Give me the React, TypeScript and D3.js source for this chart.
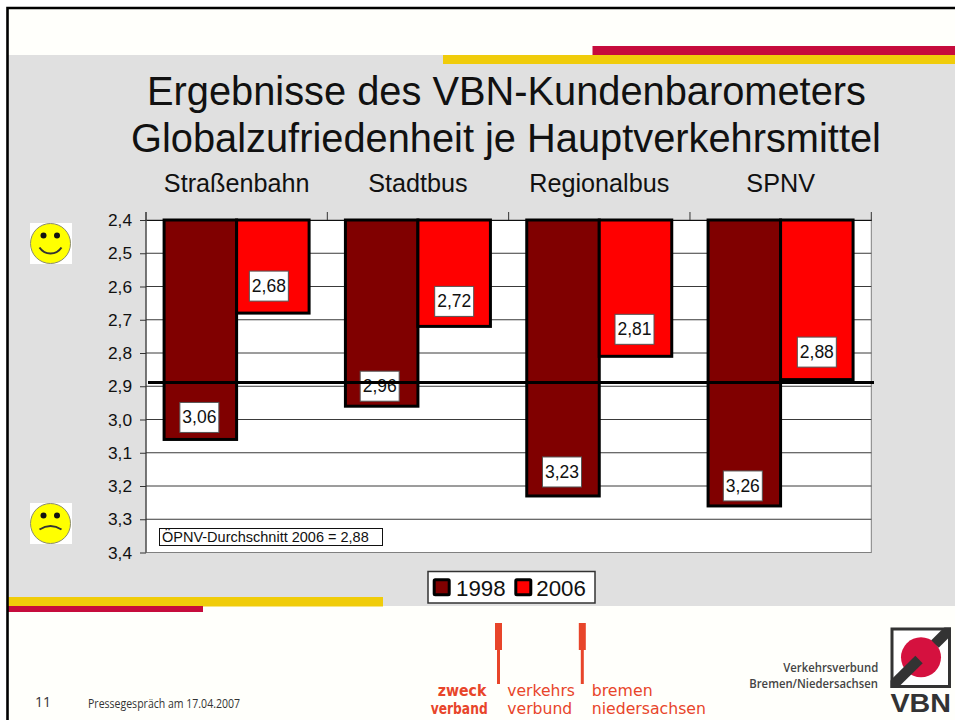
import React, { useRef, useEffect } from 'react';
import * as d3 from 'd3';

const categories = ['Straßenbahn', 'Stadtbus', 'Regionalbus', 'SPNV'];
const years = ['1998', '2006'];
const values1998 = [3.06, 2.96, 3.23, 3.26];
const values2006 = [2.68, 2.72, 2.81, 2.88];
const yTicks = [2.4, 2.5, 2.6, 2.7, 2.8, 2.9, 3.0, 3.1, 3.2, 3.3, 3.4];
const averageLine = 2.889;

// hand placed value labels, relative to the bar end
const labelShift1998 = [[-1, -22], [-2, -20], [-1, -24], [-1.5, -20]];
const labelShift2006 = [[-4, -27], [0, -25], [-1, -27], [0, -27.5]];

const colors = { '1998': '#800000', '2006': '#ff0000' };
const sans = '"Liberation Sans", Arial, sans-serif';
const logoFont = '"Open Sans", "Noto Sans", sans-serif';
const redLogoFont = '"DejaVu Sans", sans-serif';
const comma = (d: number) => d.toFixed(2).replace('.', ',');

const Smiley = ({ cy, sad }: { cy: number; sad?: boolean }) => (
    <g transform={`translate(50.5,${cy})`}>
        <rect x={-20.5} y={-20.5} width={42} height={41} fill="#fff" />
        <circle r={20} fill="#ffff00" stroke="#8a8a70" strokeWidth={1} />
        <circle cx={-7} cy={-8} r={3} fill="#111" />
        <circle cx={6.5} cy={-8} r={3} fill="#111" />
        <path
            d={sad ? 'M-11,6 Q0,-1 11,6' : 'M-11,4 Q-7,10 0,10 Q7,10 11,4'}
            fill="none"
            stroke="#333"
            strokeWidth={2}
        />
    </g>
);

const App = () => {
    const ref = useRef<SVGGElement>(null);

    useEffect(() => {
        const g = d3.select(ref.current);
        g.selectAll('*').remove();

        const x0 = d3.scaleBand().domain(categories).range([146, 871.3]);
        const x1 = d3.scaleBand().domain(years).range([18.1, 163.1]);
        const y = d3.scaleLinear().domain([2.4, 3.4]).range([220, 552.5]);

        // plot area
        g.append('rect')
            .attr('x', 146).attr('y', y(2.4))
            .attr('width', 725.3).attr('height', y(3.4) - y(2.4))
            .attr('fill', '#fff').attr('stroke', '#808080');

        // gridlines
        g.append('g').selectAll('line').data(yTicks.slice(1, -1)).enter().append('line')
            .attr('x1', 146).attr('x2', 871.3)
            .attr('y1', d => y(d)).attr('y2', d => y(d))
            .attr('stroke', '#3a3a3a');

        // axes
        const yAxis = g.append('g').attr('transform', 'translate(146,0)')
            .call(d3.axisLeft(y).tickValues(yTicks).tickFormat(d => String(comma(+d)).slice(0, 3)).tickSize(6).tickPadding(8));
        yAxis.selectAll('line').attr('stroke', '#333');
        yAxis.select('.domain').attr('stroke', '#333').attr('d', `M0,212V${y(3.4)}`);
        yAxis.selectAll('text').attr('font-family', sans).attr('font-size', 17.3).attr('fill', '#111');

        const topAxis = g.append('g').attr('transform', `translate(0,${y(2.4)})`)
            .call(d3.axisTop(x0).tickSize(0).tickPadding(28));
        topAxis.select('.domain').attr('stroke', '#111');
        topAxis.selectAll('text').attr('font-family', sans).attr('font-size', 25.2).attr('fill', '#111');

        const edges = [...categories.map(c => x0(c) as number), 871.3];
        g.append('g').selectAll('line').data(edges).enter().append('line')
            .attr('x1', d => d).attr('x2', d => d)
            .attr('y1', 212).attr('y2', y(2.4))
            .attr('stroke', '#333');

        // bars
        const series: [string, number[]][] = [['1998', values1998], ['2006', values2006]];
        series.forEach(([year, values]) => {
            g.append('g').selectAll('rect').data(values).enter().append('rect')
                .attr('x', (d, i) => (x0(categories[i]) as number) + (x1(year) as number))
                .attr('y', y(2.4))
                .attr('width', x1.bandwidth())
                .attr('height', d => y(d) - y(2.4))
                .attr('fill', colors[year as '1998' | '2006'])
                .attr('stroke', '#000')
                .attr('stroke-width', 3);
        });

        // value labels
        series.forEach(([year, values]) => {
            const shift = year === '1998' ? labelShift1998 : labelShift2006;
            const labels = g.append('g').selectAll('g').data(values).enter().append('g')
                .attr('transform', (d, i) => {
                    const cx = (x0(categories[i]) as number) + (x1(year) as number) + x1.bandwidth() / 2;
                    return `translate(${cx + shift[i][0]},${y(d) + shift[i][1]})`;
                });
            labels.append('rect')
                .attr('x', -19.5).attr('y', -15).attr('width', 39).attr('height', 30)
                .attr('fill', '#fff').attr('stroke', '#555');
            labels.append('text')
                .attr('text-anchor', 'middle').attr('y', 6)
                .attr('font-family', sans).attr('font-size', 17.5).attr('fill', '#111')
                .text(d => comma(d));
        });

        // average line sits over the bars and labels
        g.append('line')
            .attr('x1', 148).attr('x2', 874)
            .attr('y1', y(averageLine)).attr('y2', y(averageLine))
            .attr('stroke', '#000').attr('stroke-width', 3);
    }, []);

    return (
        <svg width={955} height={720} style={{ position: 'absolute', left: 0, top: 0 }}>
            <defs>
                <clipPath id="vbn-square">
                    <rect x={890.5} y={627.5} width={60.5} height={60.5} />
                </clipPath>
            </defs>
            <rect width={955} height={720} fill="#fff" />
            <rect x={8} y={8} width={947} height={712} fill="#fffffb" />
            <rect x={8} y={55} width={947} height={551} fill="#e0e0e0" />

            {/* slide stripes */}
            <rect x={592.5} y={46} width={362.5} height={9} fill="#c60c3c" />
            <rect x={443} y={55} width={512} height={9} fill="#f0cc0a" />
            <rect x={8} y={597} width={375} height={9.5} fill="#f0cc0a" />
            <rect x={8} y={606} width={195} height={6} fill="#c60c3c" />
            <path d="M7.5,720V8H955" fill="none" stroke="#000" strokeWidth={2.6} />

            <g fontFamily={sans} fill="#111" textAnchor="middle">
                <text x={506.5} y={105} fontSize={39.8}>Ergebnisse des VBN-Kundenbarometers</text>
                <text x={506} y={152} fontSize={39.8}>Globalzufriedenheit je Hauptverkehrsmittel</text>
            </g>

            <Smiley cy={243.5} />
            <Smiley cy={523.5} sad />

            <g ref={ref} />

            {/* note inside the plot */}
            <rect x={159.5} y={528.5} width={223} height={17} fill="#fff" stroke="#111" />
            <text x={162} y={542} fontFamily={sans} fontSize={14.5} fill="#111">ÖPNV-Durchschnitt 2006 = 2,88</text>

            {/* legend */}
            <rect x={428} y={571.5} width={167} height={31.5} fill="#fff" stroke="#333" strokeWidth={1.5} />
            <rect x={434.2} y={579.8} width={15} height={15} rx={1} fill={colors['1998']} stroke="#000" strokeWidth={3} />
            <text x={456} y={596} fontFamily={sans} fontSize={22.3} fill="#111">{years[0]}</text>
            <rect x={515.8} y={579.8} width={15} height={15} rx={1} fill={colors['2006']} stroke="#000" strokeWidth={3} />
            <text x={536.3} y={596} fontFamily={sans} fontSize={22.3} fill="#111">{years[1]}</text>

            {/* footer */}
            <text x={35} y={707} fontFamily={logoFont} fontSize={14} fill="#333">11</text>
            <text x={88} y={708} fontFamily={logoFont} fontSize={12} fill="#333" textLength={152} lengthAdjust="spacingAndGlyphs">Pressegespräch am 17.04.2007</text>

            {/* zweckverband logo */}
            <g fill="#e8452a">
                <rect x={495} y={623} width={7} height={27} />
                <rect x={497} y={650} width={3} height={34} />
                <rect x={578.8} y={623} width={7} height={27} />
                <rect x={580.8} y={650} width={3} height={34} />
                <g fontFamily={redLogoFont} fontSize={15.5}>
                    <text x={437.7} y={695.7} fontWeight={700} textLength={48.6} lengthAdjust="spacingAndGlyphs">zweck</text>
                    <text x={430.7} y={714} fontWeight={700} textLength={57} lengthAdjust="spacingAndGlyphs">verband</text>
                    <text x={507.3} y={695.7} textLength={67.7} lengthAdjust="spacingAndGlyphs">verkehrs</text>
                    <text x={507.3} y={714} textLength={65} lengthAdjust="spacingAndGlyphs">verbund</text>
                    <text x={591.7} y={695.7} textLength={61} lengthAdjust="spacingAndGlyphs">bremen</text>
                    <text x={591.7} y={714} textLength={114.3} lengthAdjust="spacingAndGlyphs">niedersachsen</text>
                </g>
            </g>

            {/* VBN logo */}
            <g fontFamily={logoFont} fontSize={12} fontWeight={600} fill="#444">
                <text x={783.3} y={671.7} textLength={95} lengthAdjust="spacingAndGlyphs">Verkehrsverbund</text>
                <text x={749.3} y={688.3} textLength={128.7} lengthAdjust="spacingAndGlyphs">Bremen/Niedersachsen</text>
            </g>
            <rect x={892} y={629} width={57.5} height={57.5} fill="#fff" stroke="#333" strokeWidth={3} />
            <circle cx={921} cy={657.3} r={20} fill="#d5113f" />
            <g clipPath="url(#vbn-square)" stroke="#333" strokeWidth={10.5}>
                <path d="M885,693L919,659.5" />
                <path d="M956,623L935,644" />
            </g>
            <text x={890.5} y={711.7} fontFamily={sans} fontWeight={700} fontSize={26} fill="#333" textLength={60.5} lengthAdjust="spacingAndGlyphs">VBN</text>
        </svg>
    );
};

export default App;
